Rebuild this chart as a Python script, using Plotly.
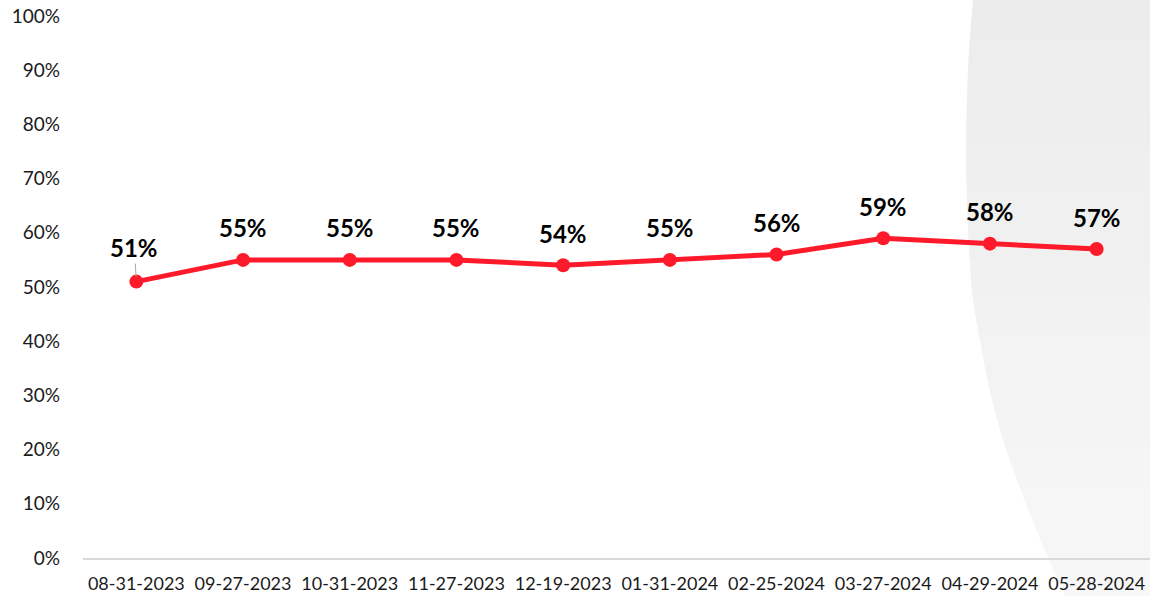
import plotly.graph_objects as go

dates = ["08-31-2023", "09-27-2023", "10-31-2023", "11-27-2023", "12-19-2023",
         "01-31-2024", "02-25-2024", "03-27-2024", "04-29-2024", "05-28-2024"]
values = [0.51, 0.55, 0.55, 0.55, 0.54, 0.55, 0.56, 0.59, 0.58, 0.57]
labels = ["51%", "55%", "55%", "55%", "54%", "55%", "56%", "59%", "58%", "57%"]
y_ticks = [0, 0.1, 0.2, 0.3, 0.4, 0.5, 0.6, 0.7, 0.8, 0.9, 1.0]

RED = "#ff1a2b"
FONT = "Lato"
W, H = 1150, 596
ML, MR, MT, MB = 83, 0, 16, 38

fig = go.Figure()
fig.add_trace(go.Scatter(
    x=dates, y=values, mode="lines+markers",
    line=dict(color=RED, width=5),
    marker=dict(color=RED, size=14),
    hoverinfo="skip", showlegend=False,
))

annotations = []
for i, (d, v, t) in enumerate(zip(dates, values, labels)):
    if i == 0:
        annotations.append(dict(
            x=d, y=v, xref="x", yref="y", text=f"<b>{t}</b>",
            showarrow=True, arrowhead=0, arrowwidth=1, arrowcolor="#a6a6a6",
            ax=-2, ay=-34, standoff=5,
            font=dict(family=FONT, size=24, color="#000000"),
        ))
    else:
        annotations.append(dict(
            x=d, y=v, xref="x", yref="y", text=f"<b>{t}</b>",
            showarrow=False, yshift=32,
            font=dict(family=FONT, size=24, color="#000000"),
        ))

# light grey curved background decoration at right (pixel outline -> paper coords)
outline = [(973, 0), (969, 50), (967, 100), (966, 150), (967, 200), (969, 250),
           (973, 300), (981, 346), (991, 396), (1005, 446), (1023, 496),
           (1043, 546), (1065, 596)]

# smooth the outline (Catmull-Rom)
smooth = []
ext = [outline[0]] + outline + [outline[-1]]
for k in range(1, len(ext) - 2):
    p0, p1, p2, p3 = ext[k - 1], ext[k], ext[k + 1], ext[k + 2]
    for s in range(10):
        t = s / 10
        t2, t3 = t * t, t * t * t
        x = 0.5 * ((2 * p1[0]) + (-p0[0] + p2[0]) * t + (2 * p0[0] - 5 * p1[0] + 4 * p2[0] - p3[0]) * t2 + (-p0[0] + 3 * p1[0] - 3 * p2[0] + p3[0]) * t3)
        y = 0.5 * ((2 * p1[1]) + (-p0[1] + p2[1]) * t + (2 * p0[1] - 5 * p1[1] + 4 * p2[1] - p3[1]) * t2 + (-p0[1] + 3 * p1[1] - 3 * p2[1] + p3[1]) * t3)
        smooth.append((x, y))
smooth.append(outline[-1])


def left_x(py):
    for (x0, y0), (x1, y1) in zip(smooth[:-1], smooth[1:]):
        if y0 <= py <= y1 and y1 > y0:
            return x0 + (x1 - x0) * (py - y0) / (y1 - y0)
    return smooth[-1][0]


pw = W - ML - MR
ph = H - MT - MB


def to_paper(px, py):
    return (px - ML) / pw, (H - MB - py) / ph


shapes = []
n_bands = 16
for b in range(n_bands):
    ya = b * H / n_bands
    yb = (b + 1) * H / n_bands + 1
    pts = [(left_x(ya), ya)]
    pts += [(x, y) for (x, y) in smooth if ya < y < yb]
    pts.append((left_x(yb), yb))
    pts += [(W + 2, yb), (W + 2, ya)]
    path = "M " + " L ".join("%.5f,%.5f" % to_paper(x, y) for x, y in pts) + " Z"
    g = int(round(236 + (247 - 236) * b / (n_bands - 1)))
    shapes.append(dict(
        type="path", xref="paper", yref="paper", path=path,
        fillcolor="rgb(%d,%d,%d)" % (g, g, g), line=dict(width=0), layer="below",
    ))

fig.update_layout(
    width=W, height=H,
    margin=dict(l=ML, r=MR, t=MT, b=MB, autoexpand=False),
    paper_bgcolor="white", plot_bgcolor="rgba(0,0,0,0)",
    font=dict(family=FONT, size=19, color="#1a1a1a"),
    annotations=annotations,
    shapes=shapes,
    xaxis=dict(
        type="category", range=[-0.5, len(dates) - 0.5],
        showgrid=False, zeroline=False,
        showline=True, linecolor="#d9d9d9", linewidth=2,
        ticks="", ticklabelstandoff=8,
        tickfont=dict(family=FONT, size=18, color="#1a1a1a"),
    ),
    yaxis=dict(
        range=[0, 1.0], tickvals=y_ticks, tickformat=".0%",
        showgrid=False, zeroline=False, showline=False,
        ticks="", ticklabelstandoff=22,
        tickfont=dict(family=FONT, size=19, color="#1a1a1a"),
    ),
)

fig.write_html("out.html", config={"displayModeBar": False},
               post_script="document.body.style.margin='0';")
